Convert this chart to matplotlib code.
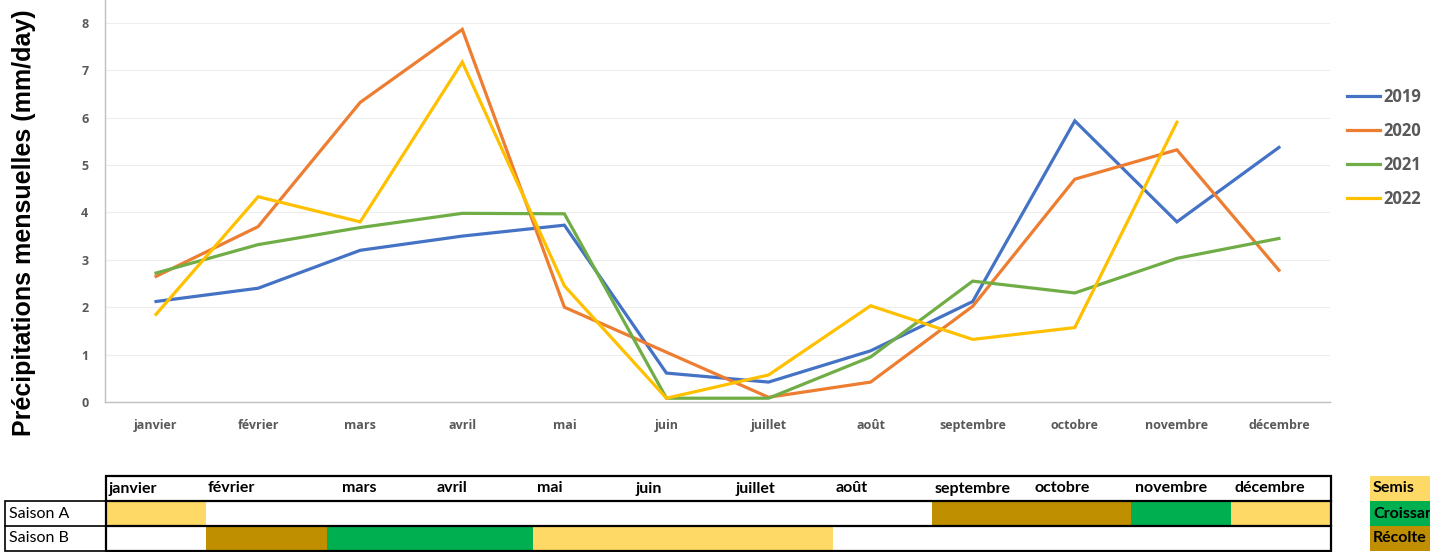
import numpy as np
import matplotlib
matplotlib.use('Agg')
import matplotlib.pyplot as plt
from matplotlib.patches import Rectangle

# monthly rainfall (mm/day)
months = ['janvier', 'février', 'mars', 'avril', 'mai', 'juin', 'juillet',
          'août', 'septembre', 'octobre', 'novembre', 'décembre']
rain_2019 = [2.12, 2.40, 3.20, 3.50, 3.73, 0.61, 0.42, 1.08, 2.12, 5.93, 3.80, 5.37]
rain_2020 = [2.65, 3.70, 6.32, 7.86, 2.00, 1.05, 0.10, 0.42, 2.02, 4.70, 5.32, 2.78]
rain_2021 = [2.72, 3.32, 3.68, 3.98, 3.97, 0.08, 0.08, 0.95, 2.55, 2.30, 3.03, 3.45]
rain_2022 = [1.85, 4.33, 3.80, 7.17, 2.45, 0.08, 0.57, 2.03, 1.32, 1.57, 5.90, np.nan]
years = ['2019', '2020', '2021', '2022']
colors = ['#4472C4', '#ED7D31', '#70AD47', '#FFC000']

# crop calendar: (start, end, phase) in month units
saison_a = [(0.0, 1.0, 'Semis'), (8.26, 10.25, 'Récolte'),
            (10.25, 11.25, 'Croissance'), (11.25, 12.24, 'Semis')]
saison_b = [(1.0, 2.21, 'Récolte'), (2.21, 4.27, 'Croissance'), (4.27, 7.27, 'Semis')]
phase_colors = {'Semis': '#FFD966', 'Croissance': '#00B050', 'Récolte': '#BF8F00'}
# header label x positions (month units) as laid out in the sheet
header_x = [0.02, 1.02, 2.36, 3.31, 4.31, 5.30, 6.30, 7.30, 8.29, 9.29, 10.29, 11.29]

W, H = 1430, 552
fig = plt.figure(figsize=(W / 100, H / 100), dpi=100)

# line chart
ax = fig.add_axes([105 / W, (H - 402) / H, 1225 / W, 402 / H])
x = np.arange(len(months))
for vals, lab, c in zip([rain_2019, rain_2020, rain_2021, rain_2022], years, colors):
    ax.plot(x, vals, color=c, lw=2.3, label=lab, solid_joinstyle='miter')
ax.set_xlim(-0.5, 11.5)
ax.set_ylim(0, 8.48)
ax.set_yticks(range(0, 9))
ax.set_xticks(x)
ax.set_xticklabels(months)
for s in ['top', 'right']:
    ax.spines[s].set_visible(False)
for s in ['left', 'bottom']:
    ax.spines[s].set_color('#BFBFBF')
    ax.spines[s].set_linewidth(1.0)
ax.grid(axis='y', color='#EDEDED', lw=0.8)
ax.set_axisbelow(True)
ax.tick_params(length=0, labelcolor='#595959', labelsize=9)
ax.tick_params(axis='x', pad=12)
ax.tick_params(axis='y', pad=12)
for t in ax.get_xticklabels() + ax.get_yticklabels():
    t.set_fontweight('bold')
    t.set_family('Open Sans')
ax.set_ylabel('Précipitations mensuelles (mm/day)', fontsize=18, fontweight='bold',
              family='Liberation Sans')
ax.yaxis.set_label_coords(-69 / 1225, 0.445)
leg = ax.legend(loc='upper left', bbox_to_anchor=(1332 / W, 1 - 73 / H),
                bbox_transform=fig.transFigure, frameon=False, handlelength=2.0,
                handletextpad=0.2, labelspacing=0.95,
                prop={'family': 'Open Sans', 'weight': 'bold', 'size': 12})
for t in leg.get_texts():
    t.set_color('#595959')

# crop calendar table
axt = fig.add_axes([106 / W, 1 / H, 1225 / W, 77 / H])
axt.set_xlim(0, 12.25)
axt.set_ylim(0, 3.08)
axt.axis('off')
for row_y, segs in [(1.0, saison_a), (0.0, saison_b)]:
    for a, b, ph in segs:
        axt.add_patch(Rectangle((a, row_y), b - a, 1.0, color=phase_colors[ph], lw=0))
for i, m in enumerate(months):
    axt.text(header_x[i], 2.5, m, fontsize=11.5, fontweight='bold', family='Lato',
             va='center', ha='left')
# borders
axt.add_patch(Rectangle((0, 0), 12.25, 3.0, fill=False, ec='black', lw=1.6, clip_on=False))
axt.plot([0, 12.25], [2.0, 2.0], color='black', lw=1.6, clip_on=False)
axt.plot([0, 12.25], [1.0, 1.0], color='black', lw=1.6, clip_on=False)
# row labels box
axt.add_patch(Rectangle((-1.01, 0), 1.01, 2.0, fill=False, ec='black', lw=1.2, clip_on=False))
axt.plot([-1.01, 0], [1.0, 1.0], color='black', lw=1.2, clip_on=False)
axt.text(-0.97, 1.5, 'Saison A', fontsize=11.5, family='Lato', va='center', clip_on=False)
axt.text(-0.97, 0.5, 'Saison B', fontsize=11.5, family='Lato', va='center', clip_on=False)

# phase legend (cut at the right edge, as in the sheet)
for k, ph in enumerate(['Semis', 'Croissance', 'Récolte']):
    y0 = 2.0 - k
    axt.add_patch(Rectangle((12.64, y0), 1.0, 1.0, color=phase_colors[ph], lw=0, clip_on=False))
    axt.text(12.67, y0 + 0.5, ph, fontsize=11.5, fontweight='bold', family='Lato',
             va='center', clip_on=False)

fig.savefig('out.png', dpi=100)
